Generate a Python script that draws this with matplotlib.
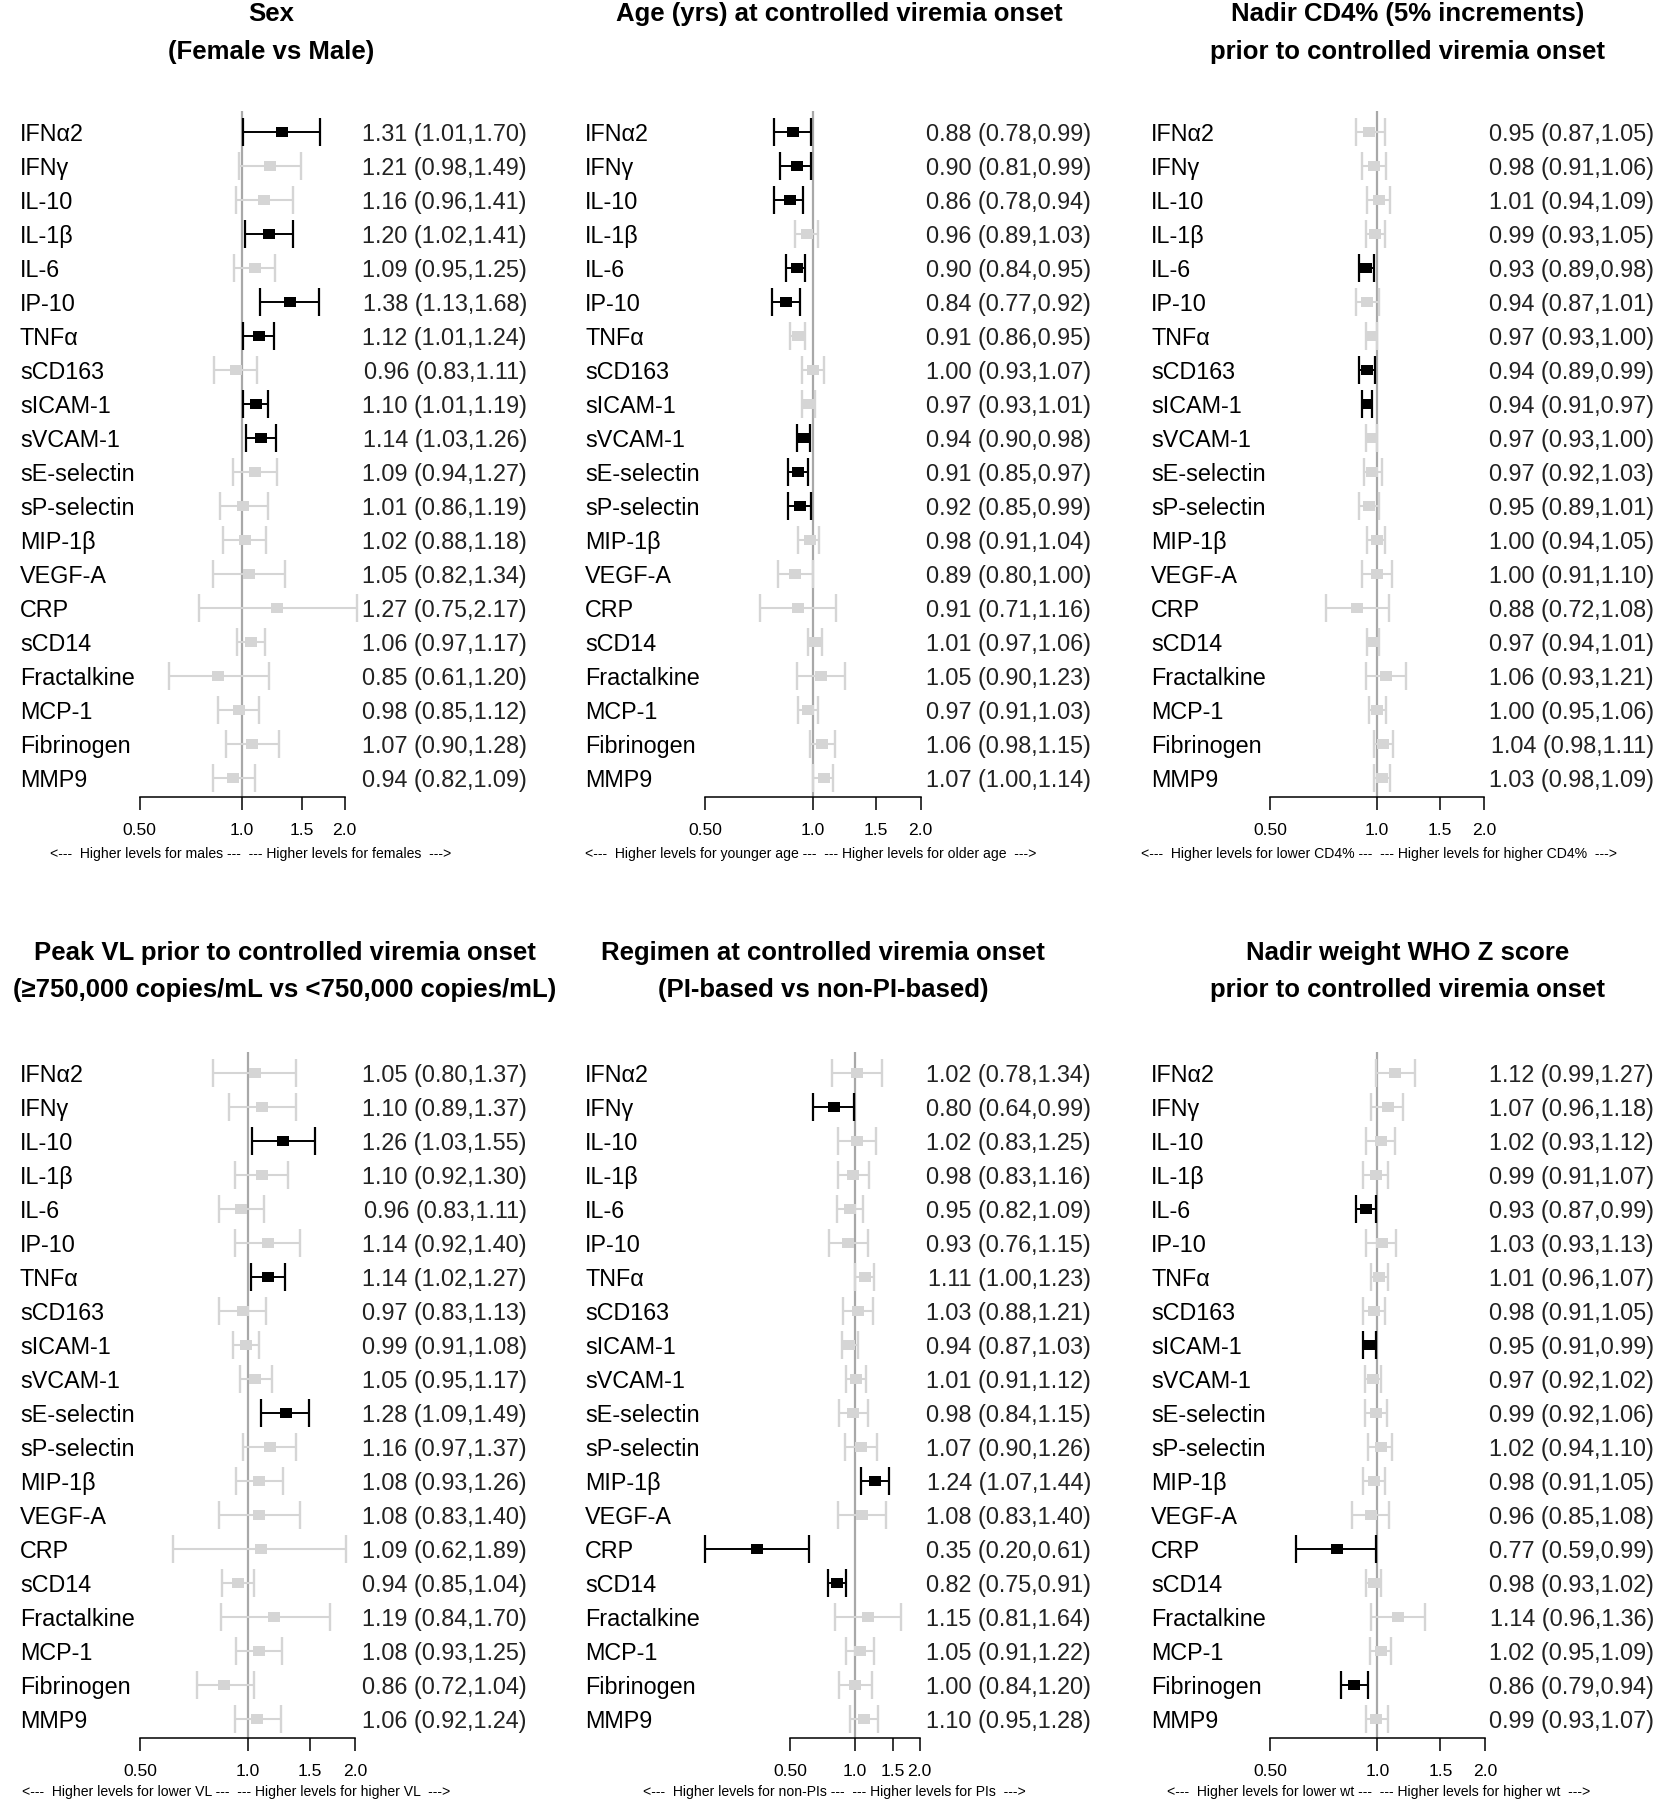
import matplotlib.pyplot as plt
from matplotlib.ticker import NullLocator
from matplotlib.transforms import blended_transform_factory

markers = ["IFNα2", "IFNγ", "IL-10", "IL-1β", "IL-6", "IP-10", "TNFα", "sCD163",
           "sICAM-1", "sVCAM-1", "sE-selectin", "sP-selectin", "MIP-1β", "VEGF-A",
           "CRP", "sCD14", "Fractalkine", "MCP-1", "Fibrinogen", "MMP9"]

# Sex (female vs male)
sex_est = [1.31, 1.21, 1.16, 1.20, 1.09, 1.38, 1.12, 0.96, 1.10, 1.14,
           1.09, 1.01, 1.02, 1.05, 1.27, 1.06, 0.85, 0.98, 1.07, 0.94]
sex_lo = [1.01, 0.98, 0.96, 1.02, 0.95, 1.13, 1.01, 0.83, 1.01, 1.03,
          0.94, 0.86, 0.88, 0.82, 0.75, 0.97, 0.61, 0.85, 0.90, 0.82]
sex_hi = [1.70, 1.49, 1.41, 1.41, 1.25, 1.68, 1.24, 1.11, 1.19, 1.26,
          1.27, 1.19, 1.18, 1.34, 2.17, 1.17, 1.20, 1.12, 1.28, 1.09]
sex_sig = [1, 0, 0, 1, 0, 1, 1, 0, 1, 1, 0, 0, 0, 0, 0, 0, 0, 0, 0, 0]

# Age at controlled viremia onset
age_est = [0.88, 0.90, 0.86, 0.96, 0.90, 0.84, 0.91, 1.00, 0.97, 0.94,
           0.91, 0.92, 0.98, 0.89, 0.91, 1.01, 1.05, 0.97, 1.06, 1.07]
age_lo = [0.78, 0.81, 0.78, 0.89, 0.84, 0.77, 0.86, 0.93, 0.93, 0.90,
          0.85, 0.85, 0.91, 0.80, 0.71, 0.97, 0.90, 0.91, 0.98, 1.00]
age_hi = [0.99, 0.99, 0.94, 1.03, 0.95, 0.92, 0.95, 1.07, 1.01, 0.98,
          0.97, 0.99, 1.04, 1.00, 1.16, 1.06, 1.23, 1.03, 1.15, 1.14]
age_sig = [1, 1, 1, 0, 1, 1, 0, 0, 0, 1, 1, 1, 0, 0, 0, 0, 0, 0, 0, 0]

# Nadir CD4%
cd4_est = [0.95, 0.98, 1.01, 0.99, 0.93, 0.94, 0.97, 0.94, 0.94, 0.97,
           0.97, 0.95, 1.00, 1.00, 0.88, 0.97, 1.06, 1.00, 1.04, 1.03]
cd4_lo = [0.87, 0.91, 0.94, 0.93, 0.89, 0.87, 0.93, 0.89, 0.91, 0.93,
          0.92, 0.89, 0.94, 0.91, 0.72, 0.94, 0.93, 0.95, 0.98, 0.98]
cd4_hi = [1.05, 1.06, 1.09, 1.05, 0.98, 1.01, 1.00, 0.99, 0.97, 1.00,
          1.03, 1.01, 1.05, 1.10, 1.08, 1.01, 1.21, 1.06, 1.11, 1.09]
cd4_sig = [0, 0, 0, 0, 1, 0, 0, 1, 1, 0, 0, 0, 0, 0, 0, 0, 0, 0, 0, 0]

# Peak VL
vl_est = [1.05, 1.10, 1.26, 1.10, 0.96, 1.14, 1.14, 0.97, 0.99, 1.05,
          1.28, 1.16, 1.08, 1.08, 1.09, 0.94, 1.19, 1.08, 0.86, 1.06]
vl_lo = [0.80, 0.89, 1.03, 0.92, 0.83, 0.92, 1.02, 0.83, 0.91, 0.95,
         1.09, 0.97, 0.93, 0.83, 0.62, 0.85, 0.84, 0.93, 0.72, 0.92]
vl_hi = [1.37, 1.37, 1.55, 1.30, 1.11, 1.40, 1.27, 1.13, 1.08, 1.17,
         1.49, 1.37, 1.26, 1.40, 1.89, 1.04, 1.70, 1.25, 1.04, 1.24]
vl_sig = [0, 0, 1, 0, 0, 0, 1, 0, 0, 0, 1, 0, 0, 0, 0, 0, 0, 0, 0, 0]

# Regimen (PI vs non-PI)
pi_est = [1.02, 0.80, 1.02, 0.98, 0.95, 0.93, 1.11, 1.03, 0.94, 1.01,
          0.98, 1.07, 1.24, 1.08, 0.35, 0.82, 1.15, 1.05, 1.00, 1.10]
pi_lo = [0.78, 0.64, 0.83, 0.83, 0.82, 0.76, 1.00, 0.88, 0.87, 0.91,
         0.84, 0.90, 1.07, 0.83, 0.20, 0.75, 0.81, 0.91, 0.84, 0.95]
pi_hi = [1.34, 0.99, 1.25, 1.16, 1.09, 1.15, 1.23, 1.21, 1.03, 1.12,
         1.15, 1.26, 1.44, 1.40, 0.61, 0.91, 1.64, 1.22, 1.20, 1.28]
pi_sig = [0, 1, 0, 0, 0, 0, 0, 0, 0, 0, 0, 0, 1, 0, 1, 1, 0, 0, 0, 0]

# Nadir weight WHO Z score
wt_est = [1.12, 1.07, 1.02, 0.99, 0.93, 1.03, 1.01, 0.98, 0.95, 0.97,
          0.99, 1.02, 0.98, 0.96, 0.77, 0.98, 1.14, 1.02, 0.86, 0.99]
wt_lo = [0.99, 0.96, 0.93, 0.91, 0.87, 0.93, 0.96, 0.91, 0.91, 0.92,
         0.92, 0.94, 0.91, 0.85, 0.59, 0.93, 0.96, 0.95, 0.79, 0.93]
wt_hi = [1.27, 1.18, 1.12, 1.07, 0.99, 1.13, 1.07, 1.05, 0.99, 1.02,
         1.06, 1.10, 1.05, 1.08, 0.99, 1.02, 1.36, 1.09, 0.94, 1.07]
wt_sig = [0, 0, 0, 0, 1, 0, 0, 0, 1, 0, 0, 0, 0, 0, 1, 0, 0, 0, 1, 0]

titles = [
    ["Sex", "(Female vs Male)"],
    ["Age (yrs) at controlled viremia onset"],
    ["Nadir CD4% (5% increments)", "prior to controlled viremia onset"],
    ["Peak VL prior to controlled viremia onset", "(≥750,000 copies/mL vs <750,000 copies/mL)"],
    ["Regimen at controlled viremia onset", "(PI-based vs non-PI-based)"],
    ["Nadir weight WHO Z score", "prior to controlled viremia onset"],
]
footnotes = [
    "<---  Higher levels for males ---  --- Higher levels for females  --->",
    "<---  Higher levels for younger age ---  --- Higher levels for older age  --->",
    "<---  Higher levels for lower CD4% ---  --- Higher levels for higher CD4%  --->",
    "<---  Higher levels for lower VL ---  --- Higher levels for higher VL  --->",
    "<---  Higher levels for non-PIs ---  --- Higher levels for PIs  --->",
    "<---  Higher levels for lower wt ---  --- Higher levels for higher wt  --->",
]
tick_vals = [0.5, 1.0, 1.5, 2.0]
tick_labels = ["0.50", "1.0", "1.5", "2.0"]

series = [
    (sex_est, sex_lo, sex_hi, sex_sig),
    (age_est, age_lo, age_hi, age_sig),
    (cd4_est, cd4_lo, cd4_hi, cd4_sig),
    (vl_est, vl_lo, vl_hi, vl_sig),
    (pi_est, pi_lo, pi_hi, pi_sig),
    (wt_est, wt_lo, wt_hi, wt_sig),
]

# layout in pixels
W, H = 1657, 1800
label_x = [20, 585, 1151]
value_r = [527, 1091, 1654]
x_one = [242, 813, 1377, 247.5, 855, 1377.5]       # pixel of ratio 1.0
unit = [102.5, 107.7, 107, 107.3, 64.6, 107.5]     # pixels per doubling
title_cx = [271, 839, 1408, 285, 823, 1408]
foot_cx = [251, 811, 1379, 236, 834, 1379]
row0 = [131.8, 1072.8]
axis_y = [797, 1738]
foot_dy = [57, 54]
title_y = [[14, 52], [953, 990]]
sp = 34.0

GREY = "#d5d5d5"
REF = "#a8a8a8"

plt.rcParams["font.family"] = ["Liberation Sans", "DejaVu Sans"]
fig = plt.figure(figsize=(W / 100, H / 100), dpi=100)


def fx(px):
    return px / W


def fy(py):
    return 1 - py / H


box = [(-1.15, -1), (1.15, -1), (1.15, 1), (-1.15, 1), (-1.15, -1)]

for k, (est, lo, hi, sig) in enumerate(series):
    col, r = k % 3, k // 3
    x1, u = x_one[k], unit[k]
    xl, xr = x1 - 2.6 * u, x1 + 1.3 * u
    top = row0[r] - sp
    ax = fig.add_axes([fx(xl), fy(axis_y[r]), (xr - xl) / W, (axis_y[r] - top) / H])
    ax.set_xscale("log")
    ax.set_xlim(2 ** ((xl - x1) / u), 2 ** ((xr - x1) / u))
    ybot = (axis_y[r] - row0[r]) / sp
    ax.set_ylim(ybot, -1)
    ax.patch.set_visible(False)
    for s in ["top", "right", "left"]:
        ax.spines[s].set_visible(False)
    ax.spines["bottom"].set_bounds(0.5, 2.0)
    ax.spines["bottom"].set_linewidth(1.1)
    ax.set_yticks([])
    ax.set_xticks(tick_vals)
    ax.set_xticklabels(tick_labels)
    ax.xaxis.set_minor_locator(NullLocator())
    ax.tick_params(axis="x", direction="out", length=9, width=1.1, pad=10, labelsize=12.6)

    ax.vlines(1, -0.6, ybot, color=REF, lw=1.6, zorder=1, clip_on=False)

    trans = blended_transform_factory(fig.transFigure, ax.transData)
    for i in range(len(markers)):
        c = "black" if sig[i] else GREY
        z = 4 if sig[i] else 2
        lw = 1.4 if sig[i] else 1.5
        ax.hlines(i, lo[i], hi[i], color=c, lw=lw, zorder=z, clip_on=False)
        ax.vlines([lo[i], hi[i]], i - 0.42, i + 0.42, color=c, lw=lw + 0.2, zorder=z, clip_on=False)
        ax.plot(est[i], i, marker=box, ms=8.4, color=c, mec=c, mew=0, zorder=z + 1, clip_on=False)
        ax.text(fx(label_x[col]), i, markers[i], transform=trans, ha="left",
                va="center_baseline", fontsize=16.8)
        ax.text(fx(value_r[col]), i, f"{est[i]:.2f} ({lo[i]:.2f},{hi[i]:.2f})", transform=trans,
                ha="right", va="center_baseline", fontsize=16.8, color="#222222")

    for j, line in enumerate(titles[k]):
        fig.text(fx(title_cx[k]), fy(title_y[r][j]), line, ha="center", va="center",
                 fontsize=18.5, fontweight="bold")
    fig.text(fx(foot_cx[k]), fy(axis_y[r] + foot_dy[r]), footnotes[k], ha="center", va="center",
             fontsize=10.1)

fig.savefig("out.png", dpi=100)
